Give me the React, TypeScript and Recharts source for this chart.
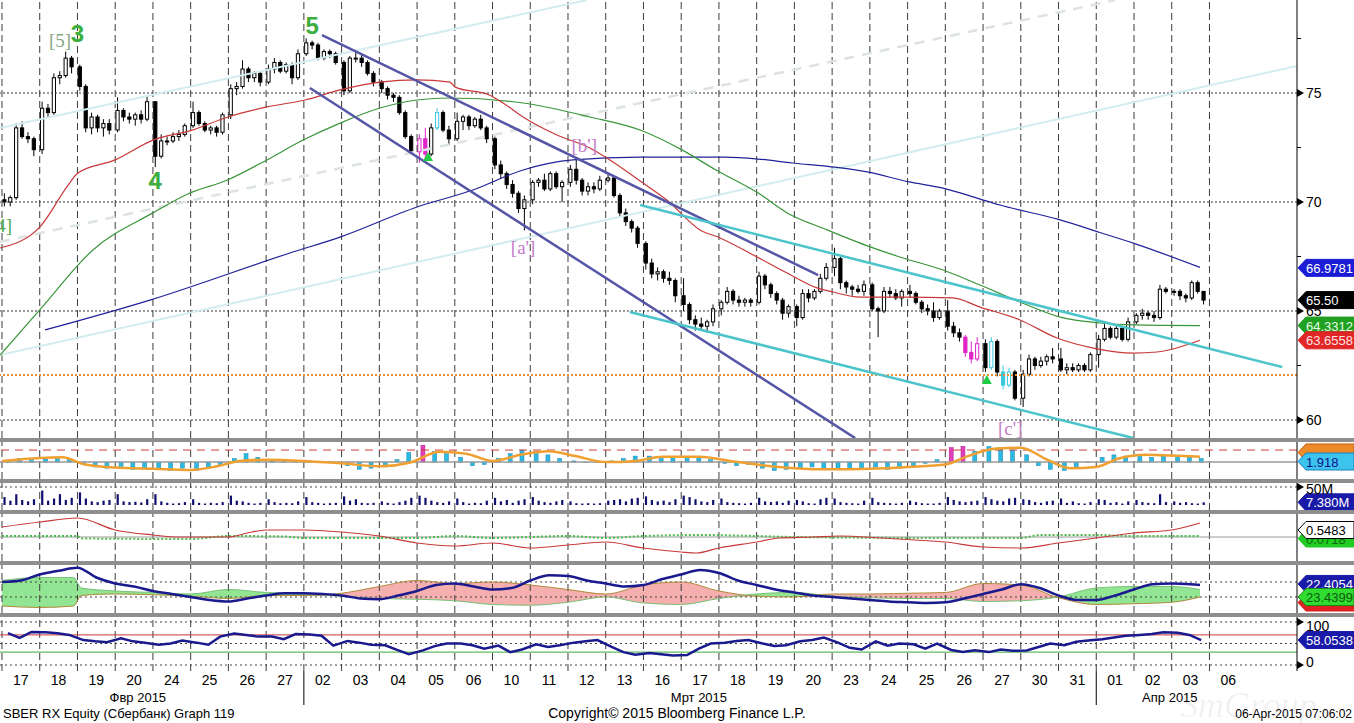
import React from 'react';
import { ComposedChart, Line, Bar, Area, XAxis, YAxis, ReferenceLine, ReferenceDot } from 'recharts';

const FONT = '"Liberation Sans", Arial, sans-serif';
const SERIF = '"Liberation Serif", "DejaVu Serif", serif';
const W = 1354;
const AW = 57;
const XMIN = -0.053;
const XMAX = 34.32;
const PER_DAY = 6;

// ---------- categories ----------
const dayLabels = ['17','18','19','20','24','25','26','27','02','03','04','05','06','10','11','12','13','16','17','18','19','20','23','24','25','26','27','30','31','01','02','03','06'];
const monthLabels: [number, string][] = [[3.6, 'Фвр 2015'], [18.47, 'Мрт 2015'], [30.95, 'Апр 2015']];
const monthStarts = [8, 29];

// ---------- price candles [open, high, low, close], 6 per day ----------
const candles: number[][] = [
  [70.1,70.4,69.8,70.0],[70.0,70.3,69.8,70.2],[70.2,73.6,70.1,73.4],[73.4,73.7,72.9,73.0],[73.0,73.2,72.7,72.9],[72.9,73.0,72.1,72.4],
  [72.4,74.6,72.2,74.3],[74.3,74.5,73.9,74.1],[74.1,75.9,74.0,75.7],[75.7,76.0,75.4,75.8],[75.8,76.9,75.7,76.6],[76.6,76.7,75.9,76.2],
  [76.2,76.3,75.1,75.3],[75.3,75.4,73.2,73.4],[73.4,74.1,73.1,73.9],[73.9,74.0,73.2,73.4],[73.4,73.8,73.0,73.6],[73.6,73.8,73.1,73.3],
  [73.3,74.8,73.2,74.2],[74.2,74.3,73.7,73.9],[73.9,74.1,73.6,73.8],[73.8,74.1,73.5,74.0],[74.0,74.2,73.6,73.8],[73.8,74.9,73.7,74.6],
  [74.6,74.6,71.6,72.1],[72.1,73.1,72.0,72.8],[72.8,73.0,72.6,72.8],[72.8,73.2,72.7,73.0],[73.0,73.3,72.8,73.1],[73.1,73.6,73.0,73.5],
  [73.5,74.6,73.4,74.1],[74.1,74.2,73.5,73.6],[73.6,73.7,73.2,73.3],[73.3,73.5,73.1,73.4],[73.4,73.5,73.0,73.2],[73.2,74.1,73.1,74.0],
  [74.0,75.4,73.8,75.2],[75.2,75.5,74.9,75.3],[75.3,76.5,75.2,76.1],[76.1,76.2,75.5,75.7],[75.7,76.0,75.5,75.9],[75.9,76.0,75.3,75.5],
  [75.5,76.3,75.4,76.1],[76.1,76.6,75.9,76.4],[76.4,76.5,75.9,76.0],[76.0,76.4,75.9,76.3],[76.3,76.4,75.4,75.7],[75.7,77.0,75.6,76.8],
  [76.8,77.5,76.7,77.3],[77.3,77.4,77.0,77.2],[77.2,77.3,76.5,76.6],[76.6,77.0,76.5,76.9],[76.9,77.0,76.6,76.8],[76.8,76.9,76.3,76.4],
  [76.4,76.5,74.9,75.1],[75.1,76.7,75.0,76.6],[76.6,76.9,76.4,76.6],[76.6,76.8,76.2,76.4],[76.4,76.5,75.8,75.9],[75.9,76.0,75.3,75.5],
  [75.5,75.6,75.0,75.2],[75.2,75.3,74.7,74.9],[74.9,75.0,74.6,74.8],[74.8,74.9,74.0,74.1],[74.1,74.2,72.9,73.0],[73.0,73.1,72.2,72.3],
  [72.3,73.1,71.8,72.9],[72.9,73.4,71.9,72.2],[72.2,73.6,72.1,73.4],[73.4,74.3,73.3,74.1],[74.1,74.2,73.2,73.3],[73.3,73.5,72.6,72.9],
  [72.9,74.1,72.8,73.7],[73.7,74.0,73.3,73.9],[73.9,74.0,73.3,73.5],[73.5,73.9,73.4,73.8],[73.8,74.0,73.3,73.4],[73.4,73.5,72.7,72.9],
  [72.9,73.0,71.5,71.7],[71.7,71.9,71.1,71.3],[71.3,71.4,70.6,70.8],[70.8,71.0,70.2,70.4],[70.4,70.5,69.5,69.7],[69.7,70.3,68.7,70.1],
  [70.1,71.0,69.9,70.9],[70.9,71.1,70.7,71.0],[71.0,71.3,70.5,70.6],[70.6,71.4,70.5,71.3],[71.3,71.4,70.6,70.7],[70.7,71.0,70.0,70.9],
  [70.9,71.7,70.7,71.5],[71.5,72.0,70.8,71.0],[71.0,71.1,70.3,70.5],[70.5,70.9,70.3,70.7],[70.7,70.9,70.4,70.6],[70.6,71.2,70.5,71.0],
  [71.0,71.3,70.9,71.1],[71.1,71.2,70.2,70.3],[70.3,70.4,69.3,69.5],[69.5,69.7,68.9,69.1],[69.1,69.2,68.6,68.8],[68.8,68.9,67.9,68.1],
  [68.1,68.2,66.9,67.2],[67.2,67.4,66.5,66.7],[66.7,67.0,66.4,66.8],[66.8,66.9,66.3,66.5],[66.5,66.8,66.2,66.4],[66.4,66.5,65.4,65.7],
  [65.7,66.5,65.0,65.3],[65.3,65.4,64.4,64.6],[64.6,64.8,64.1,64.4],[64.4,64.7,64.1,64.3],[64.3,64.6,64.0,64.5],[64.5,65.3,64.3,65.1],
  [65.1,65.5,64.8,65.4],[65.4,66.1,65.3,65.9],[65.9,66.0,65.3,65.5],[65.5,65.7,65.2,65.4],[65.4,65.6,65.2,65.5],[65.5,65.6,65.2,65.4],
  [65.4,66.8,65.3,66.6],[66.6,66.7,66.0,66.2],[66.2,66.3,65.6,65.8],[65.8,65.9,65.3,65.5],[65.5,65.6,64.6,64.9],[64.9,65.3,64.7,65.2],
  [65.2,65.3,64.3,64.7],[64.7,66.0,64.6,65.8],[65.8,66.0,65.4,65.6],[65.6,66.0,65.5,65.9],[65.9,66.7,65.8,66.5],[66.5,67.2,66.4,67.0],
  [67.0,67.9,66.6,67.4],[67.4,67.5,66.0,66.3],[66.3,66.4,65.8,66.1],[66.1,66.2,65.7,66.0],[66.0,66.2,65.8,65.9],[65.9,66.4,65.7,66.2],
  [66.2,66.3,65.0,65.1],[65.1,65.2,63.8,65.0],[65.0,66.1,64.9,65.9],[65.9,66.1,65.6,65.8],[65.8,66.0,65.5,65.6],[65.6,66.0,65.2,65.9],
  [65.9,66.2,65.6,65.8],[65.8,65.9,65.3,65.4],[65.4,65.5,64.9,65.1],[65.1,65.3,64.8,65.0],[65.0,65.4,64.5,64.7],[64.7,65.1,64.6,65.0],
  [65.0,65.5,64.1,64.3],[64.3,64.5,63.8,64.0],[64.0,64.2,63.6,63.8],[63.8,63.9,62.9,63.1],[63.1,63.6,62.6,62.8],[62.8,63.8,62.7,63.5],
  [63.5,63.7,62.2,62.4],[62.4,63.8,62.3,63.6],[63.6,63.7,62.0,62.2],[62.2,62.5,61.4,61.6],[61.6,62.4,61.5,62.2],[62.2,62.3,60.9,61.0],
  [61.0,62.3,60.6,62.1],[62.1,63.0,62.0,62.8],[62.8,62.9,62.3,62.5],[62.5,62.9,62.4,62.7],[62.7,63.0,62.5,62.9],[62.9,63.3,62.6,62.8],
  [62.8,63.3,62.2,62.3],[62.3,62.6,62.1,62.4],[62.4,62.6,62.2,62.3],[62.3,62.6,62.2,62.5],[62.5,62.6,62.2,62.3],[62.3,63.1,62.2,63.0],
  [63.0,63.9,62.4,63.7],[63.7,64.4,63.6,64.2],[64.2,64.3,63.7,63.8],[63.8,64.3,63.7,64.2],[64.2,64.3,63.6,63.7],[63.7,64.7,63.6,64.5],
  [64.5,64.9,64.4,64.8],[64.8,65.1,64.6,64.9],[64.9,65.0,64.6,64.8],[64.8,65.0,64.5,64.7],[64.7,66.2,64.6,66.0],[66.0,66.1,65.8,65.9],
  [65.9,66.0,65.7,65.9],[65.9,66.0,65.5,65.7],[65.7,65.8,65.4,65.6],[65.6,66.4,65.5,66.3],[66.3,66.4,65.8,65.9],[65.9,65.9,65.3,65.5],
];
const magentaCandles = [66, 67, 153, 154, 155];
const cyanCandles = [69, 157, 159, 160];

// ---------- moving averages [day, price] ----------
const maRed: number[][] = [[-0.05,67.89],[1.0,68.85],[1.72,70.69],[2.01,71.33],[3.0,71.93],[4.0,72.84],[5.04,73.3],[5.99,73.9],[7.02,74.36],[8.03,74.68],[8.96,75.14],[10.02,75.5],[11.0,75.6],[11.87,75.5],[12.01,75.27],[12.93,74.9],[13.28,74.54],[13.81,73.9],[14.71,73.07],[15.58,72.48],[16.11,71.93],[16.99,70.87],[17.62,70.09],[18.5,68.72],[19.03,68.35],[20.01,67.48],[20.81,66.74],[21.6,66.06],[22.02,65.87],[22.74,65.64],[23.88,65.64],[25.2,65.6],[25.92,65.18],[26.98,64.59],[27.96,63.76],[28.92,63.3],[29.98,63.07],[30.61,63.12],[31.75,63.66]];
const maGreen: number[][] = [[-0.05,62.98],[1.0,65.05],[2.41,67.8],[4.0,69.5],[4.98,70.41],[5.96,71.0],[7.02,71.93],[7.98,72.84],[8.96,73.62],[10.02,74.31],[11.0,74.68],[11.87,74.77],[13.81,74.54],[15.58,73.9],[16.91,73.3],[18.02,72.39],[18.92,71.47],[20.04,70.41],[20.81,69.5],[21.87,68.72],[23.01,67.94],[23.88,67.43],[24.94,66.88],[25.92,66.19],[26.98,65.41],[28.04,64.72],[29.1,64.45],[29.98,64.36],[31.75,64.33]];
const maBlue: number[][] = [[1.14,64.13],[3.92,65.5],[7.63,67.66],[8.96,68.39],[11.0,69.77],[12.48,70.55],[13.81,71.47],[15.13,71.93],[16.91,72.06],[19.14,72.06],[20.04,71.97],[20.94,71.79],[22.05,71.6],[22.93,71.38],[24.04,70.92],[24.94,70.64],[25.84,70.18],[26.45,69.86],[28.0,69.2],[29.1,68.6],[30.0,68.1],[31.75,67.0]];

// ---------- trend lines [day, price] pairs ----------
const slateChannel = [[[8.48,77.66],[21.63,66.65]], [[8.16,75.23],[22.61,59.17]]];
const tealChannel = [[[16.91,69.86],[33.93,62.43]], [[16.64,64.95],[29.98,59.17]]];
const lightLines = [[[-0.053,73.39],[15.5,79.26]], [[-0.053,62.98],[34.32,76.24]]];
const lightDashed = [[-0.053,68.17],[29.5,79.26]];
const supportLevel = 62.06;
const priceGrid = [60, 65, 70, 75];
const priceTicks = [60, 62.5, 65, 67.5, 70, 72.5, 75, 77.5];

const waveLabels = [
  { text: '[5]', day: 1.54, price: 77.43, kind: 'minor' },
  { text: '3', day: 2.0, price: 77.75, kind: 'major' },
  { text: '4', day: 4.06, price: 71.0, kind: 'major' },
  { text: '5', day: 8.22, price: 78.1, kind: 'major' },
  { text: '[4]', day: 0.265, price: 68.95, kind: 'minorEnd' },
  { text: "[a']", day: 13.81, price: 67.94, kind: 'corr' },
  { text: "[b']", day: 15.43, price: 72.61, kind: 'corr' },
  { text: "[c']", day: 26.72, price: 59.63, kind: 'corr' },
];
const signals = [[11.29, 72.06], [26.1, 61.83]];
const mainTags = [
  { v: 66.9781, text: '66.9781', bg: '#1c1cd6', fg: '#ffffff' },
  { v: 65.5, text: '65.50', bg: '#000000', fg: '#ffffff' },
  { v: 64.3312, text: '64.3312', bg: '#20a020', fg: '#e6ffe6' },
  { v: 63.6558, text: '63.6558', bg: '#e02626', fg: '#ffe2e2' },
];

// ---------- oscillator 1 (3 per day) ----------
const hist = [
  0.15,0.3,0.2, 0.25,0.3,0.2, -0.2,-0.4,-0.5, -0.5,-0.6,-0.5, -0.6,-0.7,-0.5, -0.7,-0.5,-0.2,
  0.3,0.7,0.4, 0.1,0.2,0.15, 0.1,0.05,-0.05, -0.3,-0.6,-0.5, -0.4,0.2,0.8, 1.4,0.9,0.7,
  0.4,-0.3,-0.2, 0.3,0.7,1.0, 0.9,0.6,0.3, 0.1,0.0,0.05, 0.1,0.3,0.5, 0.5,0.45,0.4,
  0.4,0.35,0.2, -0.1,-0.3,-0.2, -0.5,-0.7,-0.6, -0.5,-0.4,-0.5, -0.5,-0.6,-0.5, -0.4,-0.6,-0.5,
  -0.3,-0.1,0.2, 1.2,1.3,0.9, 1.3,1.2,1.0, 0.6,-0.3,-0.6, -0.7,-0.5,0.0, 0.4,0.6,0.5,
  0.6,0.4,0.5, 0.5,0.4,0.3,
];
const histMagenta = [33, 75, 76];
const signalLine: number[][] = [[0,0.1],[1,0.35],[1.6,0.4],[2.2,-0.2],[3,-0.45],[4,-0.55],[5,-0.65],[5.7,-0.35],[6.3,0.1],[7,0.2],[8,0.1],[9,-0.1],[10,-0.35],[10.8,-0.05],[11.6,0.85],[12.3,0.7],[13,0.1],[13.8,0.65],[14.5,0.9],[15.2,0.5],[16,0.0],[16.8,0.1],[17.5,0.45],[18.5,0.45],[19.3,0.1],[20,-0.2],[21,-0.5],[22,-0.6],[23,-0.55],[24,-0.4],[25,-0.2],[25.6,0.5],[26.3,1.1],[27,1.2],[27.7,0.2],[28.3,-0.5],[29,-0.4],[29.6,0.3],[30.3,0.6],[31,0.55],[31.75,0.45]];

// ---------- volume, millions (6 per day) ----------
const volume = [
  22,12,30,14,10,16, 40,12,18,30,14,20, 35,18,10,8,12,14, 30,10,8,9,7,16, 30,10,6,4,5,8,
  16,6,4,6,5,8, 26,12,10,6,4,6, 16,8,5,6,5,10, 22,8,6,4,5,6, 24,12,16,6,5,6,
  10,6,4,8,12,20, 26,20,12,8,6,10, 18,8,4,6,5,12, 20,10,14,6,12,16, 22,12,8,6,10,14,
  10,5,4,5,4,5, 12,14,16,10,18,20, 24,14,10,12,8,16, 26,22,16,10,8,14, 18,8,6,5,4,6,
  20,10,8,10,6,12, 14,10,5,4,16,20, 18,8,6,5,4,12, 20,8,6,5,4,6, 12,8,5,4,4,6,
  22,14,10,8,10,12, 22,16,12,10,18,20, 16,14,8,6,10,12, 18,6,10,5,4,8, 16,14,6,8,4,10,
  14,8,6,5,30,8, 10,6,8,5,4,7.38,
];

// ---------- oscillator 2 ----------
const osc2Red: number[][] = [[0,1.0],[1,1.5],[2,1.9],[3,0.7],[4,0.2],[4.7,0],[6,0],[6.5,0.4],[7,0.7],[8,0.7],[9,0.5],[10,0.1],[11,-0.6],[12,-0.9],[13,-0.6],[14,-1.1],[15,-0.8],[16,-0.5],[17,-1.1],[18,-1.5],[18.4,-1.6],[19,-1.1],[20,-0.5],[20.6,-0.1],[21.5,0],[22.2,0.1],[23.3,-0.1],[24.2,-0.3],[25,-0.5],[26,-1.0],[27,-1.1],[28,-0.6],[29,-0.1],[30,0.4],[31,0.7],[31.75,1.4]];
const osc2Green: number[][] = [[0,0.1],[2,0.1],[2.1,-0.15],[5,-0.2],[6,0.1],[7.5,0.05],[8,-0.1],[10,-0.1],[11,-0.1],[12,0.1],[13,-0.1],[15,0.1],[16,-0.1],[17,0.1],[18.5,0.2],[20,0.1],[21,0],[25,-0.1],[27,-0.1],[27.5,0.2],[29,0.2],[30,0.1],[31.75,0.1]];

// ---------- DMI-style panel ----------
const adx: number[][] = [[0,30],[0.5,31],[1,35],[1.5,37.5],[2,39.5],[2.5,33],[3,29],[3.5,27],[4,24],[4.5,22],[5,20],[5.5,18],[6,17],[6.5,19],[7,21],[7.5,22.5],[8,22.5],[8.5,22],[9,21],[9.5,19],[10,18.5],[10.5,21],[11,24],[11.5,28],[12,29],[12.5,27],[13,25],[13.5,26],[14,31],[14.5,34.5],[15,34],[15.5,31],[16,29],[16.5,27],[17,28],[17.5,32],[18,35],[18.5,38],[19,36],[19.5,31],[20,28],[20.5,25],[21,23],[21.5,21],[22,20],[22.5,19],[23,18],[23.5,17],[24,16.5],[24.5,16],[25,16.5],[25.5,19],[26,22],[26.5,25],[27,28.5],[27.5,26],[28,21],[28.5,18],[29,18],[29.5,21],[30,25],[30.5,28.5],[31,29],[31.5,28.5],[31.75,28]];
const cloud: number[][] = [[0,31,14],[1,33,13],[1.9,33,14],[2.1,26,21],[3,24,22],[4,23,21.5],[5,22,20.5],[6,25,19],[7,23,21],[8,22,21],[9,20.5,22.5],[10,19,27],[11,18.5,31],[12,17.5,29],[13,15,30],[14,14.5,28],[15,16.5,25],[16,20,22],[17,16,28],[18,15,30],[19,19,24],[20,22,20.5],[21,23,20],[22,20.5,22],[23,19.5,22],[24,19,22.5],[25,19,23],[26,17,29],[27,17.5,28],[28,20,19.5],[29,26,15],[30,27,15.5],[31,27,16.5],[31.75,25,20]];

// ---------- RSI (3 per day) ----------
const rsi = [
  74,63,77, 76,74,70, 58,55,53, 62,55,52, 47,50,57, 52,47,66, 73,70,66, 66,60,72,
  71,68,45, 56,52,47, 46,35,25, 34,44,50, 50,46,38, 45,30,36, 48,42,46, 52,55,58,
  42,30,24, 28,25,22, 23,38,50, 52,56,58, 50,44,46, 55,58,64, 52,40,36, 55,45,50,
  48,38,50, 35,30,34, 30,36,33, 34,42,50, 46,54,57, 60,64,68, 70,72,76, 75,70,58,
];

// ---------- derived tables ----------
const candleX = (i: number) => Math.floor(i / PER_DAY) + ((i % PER_DAY) + 0.4) / 6.4;
const thirdX = (i: number) => Math.floor(i / 3) + ((i % 3) + 0.5) / 3.2;
const byX = (a: any, b: any) => a.x - b.x;

const mainRows = [
  ...candles.map((c, i) => ({
    x: candleX(i), o: c[0], h: c[1], l: c[2], c: c[3], rng: [c[2], c[1]],
    hl: magentaCandles.includes(i) ? 'm' : cyanCandles.includes(i) ? 'c' : '',
  })),
  ...maRed.map(([x, v]) => ({ x, red: v })),
  ...maGreen.map(([x, v]) => ({ x, green: v })),
  ...maBlue.map(([x, v]) => ({ x, blue: v })),
].sort(byX);

const p1Rows = [
  ...hist.map((v, i) => ({ x: thirdX(i), hist: v, mag: histMagenta.includes(i) })),
  ...signalLine.map(([x, v]) => ({ x, sig: v })),
].sort(byX);

const p2Rows = volume.map((v, i) => ({ x: candleX(i), vol: v }));

const p3Rows = [
  ...osc2Red.map(([x, v]) => ({ x, red: v })),
  ...osc2Green.map(([x, v]) => ({ x, grn: v })),
].sort(byX);

const p4Rows = [
  ...adx.map(([x, v]) => ({ x, adx: v })),
  ...cloud.map(([x, a, b]) => ({ x, a, b, up: a >= b ? [b, a] : [a, a], dn: a < b ? [a, b] : [b, b] })),
].sort(byX);

const p5Rows = rsi.map((v, i) => ({ x: thirdX(i), rsi: v }));

const xTickInfo = new Map<number, { kind: string; text: string }>();
dayLabels.forEach((t, i) => xTickInfo.set(i + 0.5, { kind: 'day', text: t }));
monthStarts.forEach((d) => xTickInfo.set(d, { kind: 'sep', text: '' }));
monthLabels.forEach(([d, t]) => xTickInfo.set(d, { kind: 'month', text: t }));
const xTicks = Array.from(xTickInfo.keys());

// ---------- drawing helpers ----------
const CandleShape = (p: any) => {
  const d = p.payload;
  if (!d || d.h == null || p.y == null || isNaN(p.y)) return null;
  const top = Math.min(p.y, p.y + p.height);
  const hgt = Math.abs(p.height);
  const cx = p.x + p.width / 2;
  const k = d.h - d.l > 0 ? hgt / (d.h - d.l) : 0;
  const yo = top + (d.h - d.o) * k;
  const yc = top + (d.h - d.c) * k;
  const up = d.c >= d.o;
  const col = d.hl === 'm' ? '#e024c8' : d.hl === 'c' ? '#38c8dc' : '#000';
  return (
    <g>
      <line x1={cx} x2={cx} y1={top} y2={top + hgt} stroke={col} strokeWidth={1} />
      <rect x={cx - 1.6} y={Math.min(yo, yc)} width={3.2} height={Math.max(1, Math.abs(yo - yc))} fill={up ? '#fff' : col} stroke={col} strokeWidth={1} />
    </g>
  );
};

const HistShape = (p: any) => {
  if (p.y == null || isNaN(p.y)) return null;
  const top = Math.min(p.y, p.y + p.height);
  const cx = p.x + p.width / 2;
  const mag = p.payload && p.payload.mag;
  return <rect x={cx - 2} y={top} width={4} height={Math.max(0.5, Math.abs(p.height))} fill={mag ? '#e040b8' : '#2cb9e2'} stroke={mag ? '#b01890' : '#1a88b8'} strokeWidth={0.5} />;
};

const VolShape = (p: any) => {
  if (p.y == null || isNaN(p.y)) return null;
  const top = Math.min(p.y, p.y + p.height);
  const cx = p.x + p.width / 2;
  return <rect x={cx - 1} y={top} width={2.2} height={Math.abs(p.height)} fill="#10106e" />;
};

const Tag = ({ x, y, text, bg, fg, border }: any) => (
  <g>
    <path d={`M${x + 1},${y} L${x + 9},${y - 8.5} L${W},${y - 8.5} L${W},${y + 8.5} L${x + 9},${y + 8.5} Z`} fill={bg} stroke={border || bg} strokeWidth={1} />
    {text ? <text x={x + 9} y={y + 5} fill={fg} fontSize={13} fontFamily={FONT}>{text}</text> : null}
  </g>
);

const tagDot = (key: string, v: number, text: string, bg: string, fg: string, border?: string) => (
  <ReferenceDot key={key} x={XMAX} y={v} ifOverflow="visible" r={0}
    shape={(p: any) => <Tag x={p.cx} y={p.cy} text={text} bg={bg} fg={fg} border={border} />} />
);

const makeTick = (fmt: (v: number) => string, arrow: (v: number) => boolean, dy: (v: number) => number) => (p: any) => {
  const v = p.payload.value;
  const x = p.x;
  const y = p.y;
  const label = fmt(v);
  return (
    <g>
      {arrow(v)
        ? <path d={`M${x},${y - 4} L${x + 7},${y} L${x},${y + 4} Z`} fill="#000" />
        : <line x1={x} x2={x + 4} y1={y} y2={y} stroke="#000" />}
      {label ? <text x={x + 9} y={y + dy(v)} fontSize={14} fontFamily={FONT} fill="#000">{label}</text> : null}
    </g>
  );
};
const mainTick = makeTick((v) => (v % 5 === 0 ? String(v) : ''), (v) => v % 5 === 0, () => 5);
const volTick = makeTick((v) => (v === 50 ? '50M' : ''), () => true, () => 7);
const rsiTick = makeTick((v) => String(v), () => true, (v) => (v === 100 ? 9 : 2));

const XTick = (p: any) => {
  const info = xTickInfo.get(p.payload.value);
  if (!info) return null;
  const { x, y } = p;
  if (info.kind === 'day') return <text x={x} y={y + 14} textAnchor="middle" fontSize={14} fontFamily={FONT} fill="#000">{info.text}</text>;
  if (info.kind === 'sep') return <line x1={x} x2={x} y1={y} y2={y + 34} stroke="#000" strokeWidth={1} />;
  return <text x={x} y={y + 31} textAnchor="middle" fontSize={13} fontFamily={FONT} fill="#000">{info.text}</text>;
};

const vGrid = (k: string) => dayLabels.map((_, i) => (
  <ReferenceLine key={k + i} x={i} stroke="#3c3c3c" strokeDasharray="7 4" strokeWidth={1} ifOverflow="visible" />
));

const segLine = (key: string, seg: number[][], stroke: string, width: number, dash?: string) => (
  <ReferenceLine key={key} segment={[{ x: seg[0][0], y: seg[0][1] }, { x: seg[1][0], y: seg[1][1] }]}
    stroke={stroke} strokeWidth={width} strokeDasharray={dash} ifOverflow="visible" />
);

const labelStyle = (kind: string) => {
  if (kind === 'major') return { size: 24, weight: 'bold', color: '#3cae3c', family: FONT, anchor: 'middle' };
  if (kind === 'minor') return { size: 19, weight: 'normal', color: '#86a886', family: SERIF, anchor: 'middle' };
  if (kind === 'minorEnd') return { size: 19, weight: 'normal', color: '#4caa4c', family: SERIF, anchor: 'end' };
  return { size: 19, weight: 'normal', color: '#c47cc8', family: SERIF, anchor: 'middle' };
};

const xAxisHidden = <XAxis type="number" dataKey="x" domain={[XMIN, XMAX]} allowDataOverflow hide />;
const margin = { top: 0, right: 0, bottom: 0, left: 0 };

const Sep = ({ top }: { top: number }) => (
  <div style={{ position: 'absolute', left: 0, top, width: W, height: 4, background: '#8e8e8e' }} />
);

export default function App() {
  return (
    <div style={{ position: 'absolute', left: 0, top: 0, width: W, height: 723, background: '#fff', overflow: 'hidden' }}>
      {/* main price panel */}
      <div style={{ position: 'absolute', left: 0, top: 0 }}>
        <ComposedChart width={W} height={438} data={mainRows} margin={margin}>
          {xAxisHidden}
          <YAxis orientation="right" width={AW} type="number" domain={[59.174, 79.266]} allowDataOverflow
            ticks={priceTicks} interval={0} tickLine={false} tickSize={0} tickMargin={0}
            axisLine={{ stroke: '#000' }} tick={mainTick} />
          {vGrid('m')}
          {priceGrid.map((v) => <ReferenceLine key={'h' + v} y={v} stroke="#333" strokeDasharray="2 2" />)}
          <ReferenceLine y={supportLevel} stroke="#e8923a" strokeDasharray="2 2" strokeWidth={2} />
          {lightLines.map((s, i) => segLine('ll' + i, s, '#d2ecf0', 2))}
          {segLine('ld', lightDashed, '#dde2e2', 2.5, '10 8')}
          <Line dataKey="blue" type="monotone" stroke="#22229a" strokeWidth={1.2} dot={false} activeDot={false} connectNulls isAnimationActive={false} />
          <Line dataKey="green" type="monotone" stroke="#3a963a" strokeWidth={1.2} dot={false} activeDot={false} connectNulls isAnimationActive={false} />
          <Line dataKey="red" type="monotone" stroke="#c83838" strokeWidth={1.2} dot={false} activeDot={false} connectNulls isAnimationActive={false} />
          {slateChannel.map((s, i) => segLine('sc' + i, s, '#5656a6', 2.5))}
          {tealChannel.map((s, i) => segLine('tc' + i, s, '#4cc4cc', 2.5))}
          <Bar dataKey="rng" barSize={4} shape={CandleShape} isAnimationActive={false} />
          {waveLabels.map((w, i) => {
            const s = labelStyle(w.kind);
            return (
              <ReferenceDot key={'w' + i} x={w.day} y={w.price} r={0} ifOverflow="visible"
                shape={(p: any) => (
                  <text x={p.cx} y={p.cy} dy={s.size * 0.36} textAnchor={s.anchor as any} fontSize={s.size}
                    fontWeight={s.weight} fill={s.color} fontFamily={s.family}>{w.text}</text>
                )} />
            );
          })}
          {signals.map(([d, v], i) => (
            <ReferenceDot key={'s' + i} x={d} y={v} r={0} ifOverflow="visible"
              shape={(p: any) => <path d={`M${p.cx},${p.cy - 5} L${p.cx + 5},${p.cy + 4} L${p.cx - 5},${p.cy + 4} Z`} fill="#22cc44" />} />
          ))}
          {mainTags.map((t, i) => tagDot('t' + i, t.v, t.text, t.bg, t.fg))}
        </ComposedChart>
      </div>
      <Sep top={438} />

      {/* panel 1 */}
      <div style={{ position: 'absolute', left: 0, top: 442 }}>
        <ComposedChart width={W} height={37} data={p1Rows} margin={margin}>
          {xAxisHidden}
          <YAxis orientation="right" width={AW} type="number" domain={[-1.4, 1.667]} allowDataOverflow tick={false} tickLine={false} axisLine={{ stroke: '#000' }} />
          {vGrid('a')}
          <ReferenceLine y={0} stroke="#9a9a9a" strokeWidth={1.5} />
          <ReferenceLine y={1} stroke="#c83a3a" strokeDasharray="8 6" strokeWidth={1} />
          <Bar dataKey="hist" barSize={4} shape={HistShape} isAnimationActive={false} />
          <Line dataKey="sig" type="monotone" stroke="#f0a030" strokeWidth={2.5} dot={false} activeDot={false} connectNulls isAnimationActive={false} />
          {tagDot('o1', 0.8, '', '#ee8a2a', '#000', '#c06010')}
          {tagDot('o2', 0.05, '1.918', '#3cc4ee', '#10108a', '#1a80c0')}
        </ComposedChart>
      </div>
      <Sep top={479} />

      {/* panel 2 : volume */}
      <div style={{ position: 'absolute', left: 0, top: 483 }}>
        <ComposedChart width={W} height={27} data={p2Rows} margin={margin}>
          {xAxisHidden}
          <YAxis orientation="right" width={AW} type="number" domain={[-13.9, 61.1]} allowDataOverflow ticks={[50]} interval={0}
            tickLine={false} tickSize={0} tickMargin={0} axisLine={{ stroke: '#000' }} tick={volTick} />
          {vGrid('b')}
          <ReferenceLine y={50} stroke="#444" strokeDasharray="2 3" />
          <Bar dataKey="vol" barSize={2} shape={VolShape} isAnimationActive={false} />
          {tagDot('v1', 7.38, '7.380M', '#1a1aa8', '#ffffff')}
        </ComposedChart>
      </div>
      <Sep top={510} />

      {/* panel 3 */}
      <div style={{ position: 'absolute', left: 0, top: 514 }}>
        <ComposedChart width={W} height={47} data={p3Rows} margin={margin}>
          {xAxisHidden}
          <YAxis orientation="right" width={AW} type="number" domain={[-2.4, 2.3]} allowDataOverflow tick={false} tickLine={false} axisLine={{ stroke: '#000' }} />
          {vGrid('c')}
          <ReferenceLine y={0} stroke="#9a9a9a" strokeWidth={1} />
          <Line dataKey="grn" type="monotone" stroke="#4cbc4c" strokeWidth={2} strokeDasharray="2 2" dot={false} activeDot={false} connectNulls isAnimationActive={false} />
          <Line dataKey="red" type="monotone" stroke="#c83838" strokeWidth={1.2} dot={false} activeDot={false} connectNulls isAnimationActive={false} />
          {tagDot('g1', -0.15, '0.0718', '#22cc22', '#0c6a0c')}
          {tagDot('g2', 0.7, '0.5483', '#ffffff', '#000000', '#000000')}
        </ComposedChart>
      </div>
      <Sep top={561} />

      {/* panel 4 */}
      <div style={{ position: 'absolute', left: 0, top: 565 }}>
        <ComposedChart width={W} height={48} data={p4Rows} margin={margin}>
          {xAxisHidden}
          <YAxis orientation="right" width={AW} type="number" domain={[9.33, 41.33]} allowDataOverflow tick={false} tickLine={false} axisLine={{ stroke: '#000' }} />
          {vGrid('d')}
          <ReferenceLine y={30} stroke="#444" strokeDasharray="2 3" />
          <ReferenceLine y={20} stroke="#444" strokeDasharray="2 3" />
          <Area dataKey="up" type="monotone" stroke="none" fill="#86e286" fillOpacity={0.9} connectNulls isAnimationActive={false} />
          <Area dataKey="dn" type="monotone" stroke="none" fill="#f4a6a6" fillOpacity={0.9} connectNulls isAnimationActive={false} />
          <Line dataKey="a" type="monotone" stroke="#78c078" strokeWidth={1} dot={false} activeDot={false} connectNulls isAnimationActive={false} />
          <Line dataKey="b" type="monotone" stroke="#b08a3a" strokeWidth={1} dot={false} activeDot={false} connectNulls isAnimationActive={false} />
          <Line dataKey="adx" type="monotone" stroke="#1a1a8e" strokeWidth={2.5} dot={false} activeDot={false} connectNulls isAnimationActive={false} />
          {tagDot('d1', 28.7, '22.4054', '#1a1aa8', '#ffffff')}
          {tagDot('d2', 16.3, '', '#dd2222', '#ffffff')}
          {tagDot('d3', 20.0, '23.4399', '#30dc30', '#0c5a0c', '#1a8a1a')}
        </ComposedChart>
      </div>
      <Sep top={613} />

      {/* panel 5 : RSI + date axis */}
      <div style={{ position: 'absolute', left: 0, top: 617 }}>
        <ComposedChart width={W} height={106} data={p5Rows} margin={margin}>
          <XAxis type="number" dataKey="x" domain={[XMIN, XMAX]} allowDataOverflow height={52}
            ticks={xTicks} interval={0} tick={XTick} tickLine={false} axisLine={false} tickSize={0} tickMargin={0} />
          <YAxis orientation="right" width={AW} type="number" domain={[-13.95, 111.63]} allowDataOverflow ticks={[0, 100]} interval={0}
            tickLine={false} tickSize={0} tickMargin={0} axisLine={{ stroke: '#000' }} tick={rsiTick} />
          {vGrid('e')}
          <ReferenceLine y={100} stroke="#444" strokeDasharray="2 3" />
          <ReferenceLine y={50} stroke="#444" strokeDasharray="2 3" />
          <ReferenceLine y={0} stroke="#444" strokeDasharray="2 3" />
          <ReferenceLine y={70} stroke="#c83838" strokeWidth={1} />
          <ReferenceLine y={30} stroke="#3aaa3a" strokeWidth={1} />
          <Line dataKey="rsi" type="linear" stroke="#1a1a8e" strokeWidth={2.5} dot={false} activeDot={false} isAnimationActive={false} />
          {tagDot('r1', 58.05, '58.0538', '#1a1aa8', '#ffffff')}
        </ComposedChart>
      </div>

      {/* footer */}
      <div style={{ position: 'absolute', left: 3, top: 706, fontFamily: FONT, fontSize: 13, whiteSpace: 'nowrap', color: '#000' }}>SBER RX Equity (Сбербанк) Graph 119</div>
      <div style={{ position: 'absolute', left: 0, width: W, top: 705, textAlign: 'center', fontFamily: FONT, fontSize: 14, whiteSpace: 'nowrap', color: '#000' }}>Copyright© 2015 Bloomberg Finance L.P.</div>
      <div style={{ position: 'absolute', left: 1180, top: 684, fontFamily: SERIF, fontStyle: 'italic', fontSize: 36, color: 'rgba(0,0,0,0.06)', whiteSpace: 'nowrap' }}>SmGroup</div>
      <div style={{ position: 'absolute', right: 2, top: 707, fontFamily: FONT, fontSize: 12, whiteSpace: 'nowrap', color: '#000' }}>06-Apr-2015 07:06:02</div>
    </div>
  );
}
